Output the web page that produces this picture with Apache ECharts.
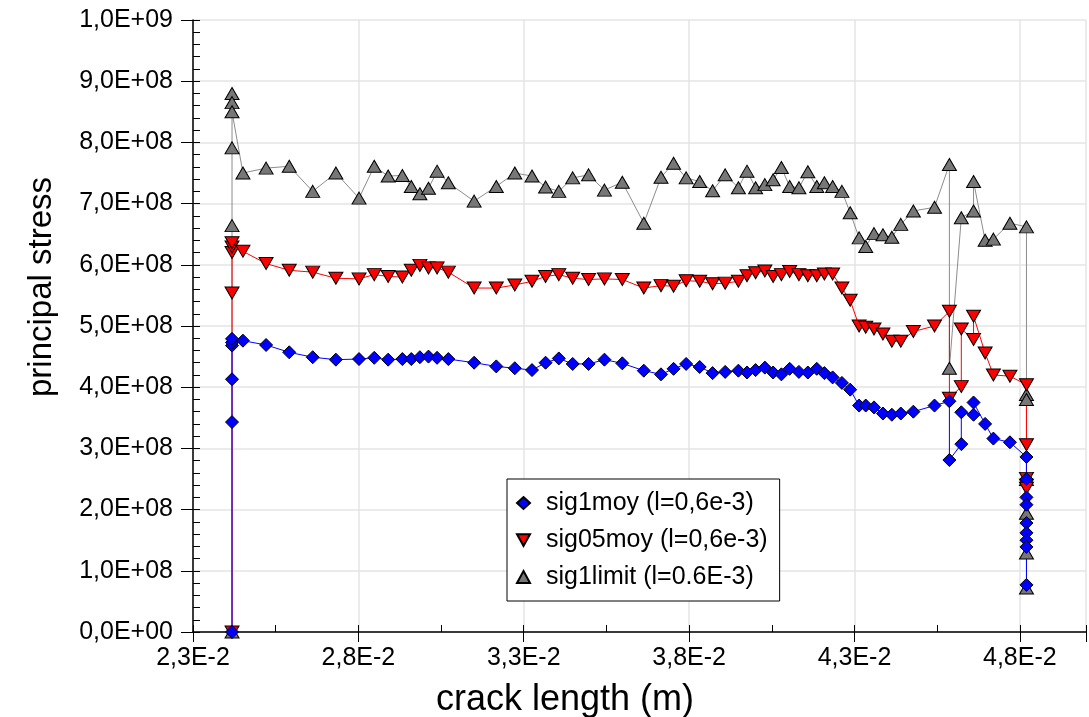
<!DOCTYPE html>
<html>
<head>
<meta charset="utf-8">
<script src="https://cdn.jsdelivr.net/npm/echarts@6/dist/echarts.min.js"></script>
<style>
  html, body { margin: 0; padding: 0; background: #fff; }
  #chart { width: 1089px; height: 717px; }
</style>
</head>
<body>
<div id="chart"></div>
<script>
// crack length (m) shared by the three series in the middle part
const crackMain = [0.02451, 0.02521, 0.02591, 0.02662, 0.02732, 0.02802, 0.02848, 0.02890, 0.02933, 0.02960,
  0.02986, 0.03012, 0.03038, 0.03072, 0.03150, 0.03217, 0.03273, 0.03325, 0.03366, 0.03406,
  0.03448, 0.03496, 0.03544, 0.03598, 0.03663, 0.03715, 0.03753, 0.03791, 0.03832, 0.03871,
  0.03909, 0.03949, 0.03975, 0.04001, 0.04029, 0.04054, 0.04079, 0.04104, 0.04132, 0.04159,
  0.04186, 0.04209, 0.04234, 0.04262, 0.04287, 0.04314, 0.04334, 0.04359, 0.04386, 0.04413,
  0.04440, 0.04478, 0.04542, 0.04587];
const crackStart = 0.02418;

// stresses in units of 1e8 Pa
const sig1moyHead = [0, 3.43, 4.13, 4.68, 4.73, 4.79];
const sig1moyMain = [4.76, 4.69, 4.57, 4.49, 4.45, 4.46, 4.48, 4.45, 4.46, 4.46,
  4.49, 4.50, 4.48, 4.46, 4.40, 4.34, 4.31, 4.28, 4.40, 4.47,
  4.38, 4.38, 4.45, 4.39, 4.27, 4.21, 4.30, 4.38, 4.33, 4.23,
  4.25, 4.27, 4.24, 4.28, 4.32, 4.24, 4.21, 4.30, 4.25, 4.24,
  4.30, 4.23, 4.16, 4.07, 3.96, 3.70, 3.70, 3.67, 3.57, 3.55,
  3.57, 3.60, 3.70, 3.77];
const sig1moyTailX = [0.04587, 0.04623, 0.04623, 0.04660, 0.04660, 0.04695, 0.04720, 0.04770,
  0.04820, 0.04820, 0.04820, 0.04820, 0.04820, 0.04820, 0.04820, 0.04820, 0.04820];
const sig1moyTailY = [2.81, 3.07, 3.59, 3.55, 3.75, 3.40, 3.16, 3.10,
  2.86, 2.50, 2.20, 2.08, 1.78, 1.62, 1.50, 1.39, 0.77];

const sig05moyHead = [0, 5.54, 6.20, 6.29, 6.36];
const sig05moyMain = [6.22, 6.02, 5.91, 5.88, 5.78, 5.77, 5.84, 5.81, 5.80, 5.91,
  5.99, 5.95, 5.95, 5.88, 5.62, 5.62, 5.67, 5.73, 5.81, 5.84,
  5.78, 5.76, 5.77, 5.76, 5.62, 5.66, 5.65, 5.74, 5.73, 5.69,
  5.70, 5.73, 5.82, 5.87, 5.90, 5.81, 5.84, 5.89, 5.84, 5.82,
  5.82, 5.85, 5.85, 5.62, 5.42, 5.00, 4.98, 4.95, 4.87, 4.75,
  4.75, 4.91, 5.00, 5.24];
const sig05moyTailX = [0.04587, 0.04623, 0.04623, 0.04660, 0.04660, 0.04695, 0.04720, 0.04770,
  0.04820, 0.04820, 0.04820, 0.04820, 0.04820];
const sig05moyTailY = [3.82, 4.01, 4.95, 4.78, 5.16, 4.56, 4.20, 4.18,
  4.04, 3.06, 2.51, 2.40, 2.35];

const sig1limitHead = [0, 6.64, 7.91, 8.80, 8.65, 8.50];
const sig1limitMain = [7.50, 7.58, 7.61, 7.20, 7.50, 7.09, 7.61, 7.45, 7.46, 7.28,
  7.16, 7.25, 7.53, 7.34, 7.04, 7.28, 7.50, 7.45, 7.27, 7.20,
  7.42, 7.47, 7.22, 7.35, 6.68, 7.43, 7.66, 7.42, 7.36, 7.21,
  7.47, 7.26, 7.53, 7.26, 7.31, 7.39, 7.59, 7.28, 7.26, 7.52,
  7.28, 7.34, 7.28, 7.20, 6.85, 6.44, 6.30, 6.51, 6.49, 6.45,
  6.66, 6.88, 6.94, 7.64];
const sig1limitTailX = [0.04587, 0.04623, 0.04660, 0.04660, 0.04695, 0.04720, 0.04770,
  0.04820, 0.04820, 0.04820, 0.04820, 0.04820, 0.04820, 0.04820];
const sig1limitTailY = [4.31, 6.77, 6.88, 7.36, 6.40, 6.42, 6.68,
  6.62, 3.88, 3.80, 2.49, 1.94, 1.29, 0.72];

const seriesNames = ['sig1moy (l=0,6e-3)', 'sig05moy (l=0,6e-3)', 'sig1limit (l=0.6E-3)'];

const FONT = '"Liberation Sans", Arial, sans-serif';
const downTriangle = 'path://M0,0L10,0L5,9Z';

function buildPoints(head, main, tailX, tailY) {
  const pts = [];
  head.forEach((v) => pts.push([crackStart, v * 1e8]));
  main.forEach((v, i) => pts.push([crackMain[i], v * 1e8]));
  tailY.forEach((v, i) => pts.push([tailX[i], v * 1e8]));
  return pts;
}

function sci(v, padExp) {
  if (v === 0) return '0,0E+00';
  let e = Math.floor(Math.log10(Math.abs(v)) + 1e-9);
  let m = v / Math.pow(10, e);
  let ms = m.toFixed(1);
  if (ms === '10.0') { e += 1; ms = '1.0'; }
  const es = padExp ? String(Math.abs(e)).padStart(2, '0') : String(Math.abs(e));
  return ms.replace('.', ',') + 'E' + (e < 0 ? '-' : '+') + es;
}

const chart = echarts.init(document.getElementById('chart'));

const option = {
  backgroundColor: '#fff',
  animation: false,
  grid: { left: 193, right: -3, top: 20, bottom: 85 },
  legend: {
    orient: 'vertical',
    left: 507,
    top: 479,
    data: [
      { name: seriesNames[0], icon: 'diamond' },
      { name: seriesNames[1], icon: downTriangle },
      { name: seriesNames[2], icon: 'triangle' },
    ],
    itemWidth: 13,
    itemHeight: 12,
    itemGap: 9,
    padding: [10, 12, 10, 9],
    backgroundColor: '#fff',
    borderColor: '#000',
    borderWidth: 1,
    borderRadius: 0,
    textStyle: { fontFamily: FONT, fontSize: 25, color: '#000', lineHeight: 28, padding: [0, 0, 0, 11] },
  },
  xAxis: [
    {
      type: 'value',
      position: 'bottom',
      min: 0.023,
      max: 0.05,
      interval: 0.005,
      axisLine: { lineStyle: { color: '#000', width: 1.5 } },
      axisTick: { show: true, inside: false, length: 10, lineStyle: { color: '#000', width: 1 } },
      axisLabel: {
        color: '#000', fontFamily: FONT, fontSize: 25, margin: 14,
        formatter: (v) => {
          const k = (v - 0.023) / 0.005;
          if (Math.abs(k - Math.round(k)) > 1e-6) return '';
          return sci(v, false);
        },
      },
      splitLine: { show: true, lineStyle: { color: '#e4e4e4', width: 1.5 } },
    },
    {
      // minor ticks, drawn inside the plot
      type: 'value',
      position: 'bottom',
      offset: 0,
      min: 0.023,
      max: 0.05,
      interval: 0.0025,
      axisLine: { show: false },
      axisTick: { show: true, inside: true, length: 7, lineStyle: { color: '#000', width: 1 } },
      axisLabel: { show: false },
      splitLine: { show: false },
    },
  ],
  yAxis: [
    {
      type: 'value',
      position: 'left',
      min: 0,
      max: 1e9,
      interval: 1e8,
      axisLine: { show: true, lineStyle: { color: '#000', width: 1.5 } },
      axisTick: { show: true, inside: false, length: 12, lineStyle: { color: '#000', width: 1 } },
      axisLabel: { color: '#000', fontFamily: FONT, fontSize: 25, margin: 20, formatter: (v) => sci(v, true) },
      splitLine: { show: true, lineStyle: { color: '#e4e4e4', width: 1.5 } },
    },
    {
      // minor ticks, drawn inside the plot
      type: 'value',
      position: 'left',
      offset: 0,
      min: 0,
      max: 1e9,
      interval: 2e7,
      axisLine: { show: false },
      axisTick: { show: true, inside: true, length: 7, lineStyle: { color: '#000', width: 1 } },
      axisLabel: { show: false },
      splitLine: { show: false },
    },
  ],
  graphic: [
    {
      type: 'text', x: 42, y: 287, rotation: Math.PI / 2,
      style: { text: 'principal stress', font: '33px "Liberation Sans", Arial, sans-serif', fill: '#000', align: 'center', verticalAlign: 'middle' },
    },
    {
      type: 'text', x: 565, y: 700,
      style: { text: 'crack length (m)', font: '36px "Liberation Sans", Arial, sans-serif', fill: '#000', align: 'center', verticalAlign: 'middle' },
    },
  ],
  series: [
    {
      name: seriesNames[2],
      type: 'line',
      data: buildPoints(sig1limitHead, sig1limitMain, sig1limitTailX, sig1limitTailY),
      symbol: 'triangle',
      symbolSize: [14, 12],
      showAllSymbol: true,
      lineStyle: { color: '#8c8c8c', width: 1 },
      itemStyle: { color: '#777777', borderColor: '#000', borderWidth: 1 },
    },
    {
      name: seriesNames[1],
      type: 'line',
      data: buildPoints(sig05moyHead, sig05moyMain, sig05moyTailX, sig05moyTailY),
      symbol: downTriangle,
      symbolSize: [14, 12],
      showAllSymbol: true,
      lineStyle: { color: '#ff0000', width: 1 },
      itemStyle: { color: '#ff0000', borderColor: '#000', borderWidth: 1 },
    },
    {
      name: seriesNames[0],
      type: 'line',
      data: buildPoints(sig1moyHead, sig1moyMain, sig1moyTailX, sig1moyTailY),
      symbol: 'diamond',
      symbolSize: [13, 13],
      showAllSymbol: true,
      lineStyle: { color: '#0000ff', width: 1 },
      itemStyle: { color: '#0000ff', borderColor: '#000', borderWidth: 1 },
    },
  ],
};

chart.setOption(option);
</script>
</body>
</html>
